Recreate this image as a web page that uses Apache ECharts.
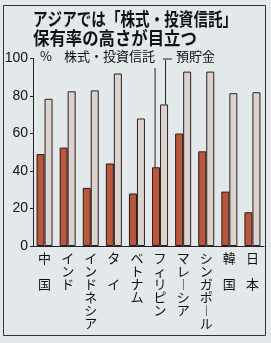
<!DOCTYPE html>
<html><head><meta charset="utf-8">
<script src="https://cdn.jsdelivr.net/npm/echarts@6/dist/echarts.min.js"></script>
<style>html,body{margin:0;padding:0;background:#e3e8eb;}#c{width:271px;height:343px;}</style>
</head><body><div id="c"></div>
<script>
const categories = ['中国','インド','インドネシア','タイ','ベトナム','フィリピン','マレーシア','シンガポール','韓国','日本'];
const stockFund = [49, 52.5, 31, 44, 28, 42, 60, 50.5, 29, 18];
const deposits = [78.5, 82.5, 83, 92, 68, 75.5, 93, 93, 81.5, 82];
const yTicks = [0, 20, 40, 60, 80, 100];
const titleLines = ['アジアでは「株式・投資信託」', '保有率の高さが目立つ'];
const legendNames = ['株式・投資信託', '預貯金'];

const font = '"Noto Sans CJK JP", "Noto Sans", sans-serif';
const chart = echarts.init(document.getElementById('c'), null, {renderer: 'canvas'});

function vert(s) {
  const chars = Array.from(s).map(c => c === 'ー' ? '︱' : c);
  return chars.length === 2 ? chars.join('\n\n') : chars.join('\n');
}

chart.setOption({
  backgroundColor: '#e3e8eb',
  animation: false,
  grid: {left: 33, right: 7, top: 58.5, bottom: 97},
  xAxis: {
    type: 'category', data: categories,
    axisLine: {lineStyle: {color: '#222', width: 1}},
    axisTick: {show: false},
    axisLabel: {
      interval: 0, formatter: vert, color: '#111', fontFamily: font,
      fontSize: 13, lineHeight: 13, verticalAlign: 'top', margin: 6
    }
  },
  yAxis: {
    type: 'value', min: 0, max: 100, interval: 20,
    axisLine: {show: true, lineStyle: {color: '#222', width: 1}},
    axisTick: {show: true, length: 3, lineStyle: {color: '#222'}},
    splitLine: {show: false},
    axisLabel: {
      color: '#111', fontFamily: '"Liberation Sans", Arial, sans-serif', fontSize: 14, margin: 5,
      formatter: v => yTicks.includes(v) ? String(v) : ''
    }
  },
  series: [
    {name: legendNames[0], type: 'bar', data: stockFund, barWidth: 8, barGap: '0%',
     itemStyle: {color: '#b9573d', borderColor: '#2a1a15', borderWidth: 1}},
    {name: legendNames[1], type: 'bar', data: deposits, barWidth: 8,
     itemStyle: {color: '#dcd2ce', borderColor: '#2a2222', borderWidth: 1}}
  ]
});

const cx = chart.convertToPixel({xAxisIndex: 0}, 'フィリピン');
const yRed = chart.convertToPixel({yAxisIndex: 0}, stockFund[5]);
const yGray = chart.convertToPixel({yAxisIndex: 0}, deposits[5]);

chart.setOption({
  graphic: [
    {type: 'rect', shape: {x: 3.5, y: 5.5, width: 262, height: 330}, silent: true,
     style: {fill: 'none', stroke: '#333', lineWidth: 1}},
    {type: 'text', x: 33, y: 10, scaleX: 0.81,
     style: {text: titleLines[0], font: 'bold 18px ' + font, fill: '#111', textVerticalAlign: 'top'}},
    {type: 'text', x: 33, y: 29, scaleX: 0.91,
     style: {text: titleLines[1], font: 'bold 18px ' + font, fill: '#111', textVerticalAlign: 'top'}},
    {type: 'text', left: 40, top: 50,
     style: {text: '%', font: '13px ' + font, fill: '#111'}},
    {type: 'text', left: 64, top: 50,
     style: {text: legendNames[0], font: '13px ' + font, fill: '#111'}},
    {type: 'text', left: 176, top: 50,
     style: {text: legendNames[1], font: '13px ' + font, fill: '#111'}},
    {type: 'line', shape: {x1: 163, y1: 59, x2: 172, y2: 59}, style: {stroke: '#222', lineWidth: 1}},
    {type: 'polyline', shape: {points: [[cx - 5, 68], [cx - 5, yRed]]}, style: {stroke: '#222', lineWidth: 1}},
    {type: 'polyline', shape: {points: [[cx + 5.5, 60], [cx + 5.5, yGray]]}, style: {stroke: '#222', lineWidth: 1}}
  ]
});
</script></body></html>
